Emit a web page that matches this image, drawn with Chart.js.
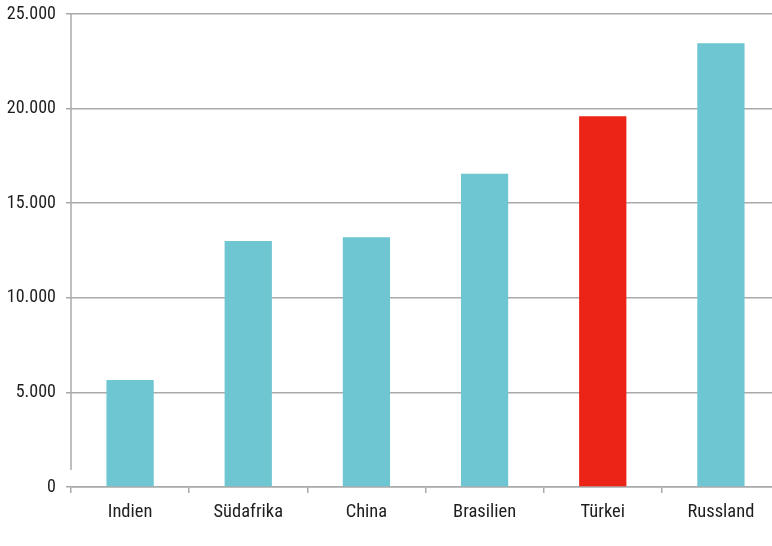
<!DOCTYPE html>
<html>
<head>
<meta charset="utf-8">
<script src="https://cdn.jsdelivr.net/npm/chart.js@4"></script>
<style>
  html, body { margin: 0; padding: 0; background: #fff; overflow: hidden; }
  #wrap { width: 800px; height: 546px; }
</style>
</head>
<body>
<div id="wrap"><canvas id="chart" width="800" height="546"></canvas></div>
<script>
// Werte
var categories = ['Indien', 'Südafrika', 'China', 'Brasilien', 'Türkei', 'Russland'];
var values = [5650, 13000, 13200, 16550, 19600, 23450];
var barColors = ['#6ec6d2', '#6ec6d2', '#6ec6d2', '#6ec6d2', '#ec2317', '#6ec6d2'];
var yTicks = [0, 5000, 10000, 15000, 20000, 25000];

var fontFamily = '"Roboto Condensed", "Liberation Sans Narrow", Roboto, sans-serif';

function fmt(v) {
    return String(v).replace(/\B(?=(\d{3})+(?!\d))/g, '.');
}

// y-Achse mit kleiner Lücke über der Nulllinie
var yAxisLine = {
    id: 'yAxisLine',
    afterDatasetsDraw: function (chart) {
        var a = chart.chartArea;
        var c = chart.ctx;
        c.save();
        c.strokeStyle = '#aaaaaa';
        c.lineWidth = 1.5;
        c.beginPath();
        c.moveTo(a.left, a.top);
        c.lineTo(a.left, a.bottom - 17);
        c.stroke();
        c.restore();
    }
};

var ctx = document.getElementById('chart').getContext('2d');
var chart = new Chart(ctx, {
    type: 'bar',
    data: {
        labels: categories,
        datasets: [{
            data: values,
            backgroundColor: barColors,
            borderWidth: 0,
            barPercentage: 0.4,
            categoryPercentage: 1
        }]
    },
    plugins: [yAxisLine],
    options: {
        responsive: false,
        animation: false,
        layout: { padding: { top: 14, right: 20, left: 0, bottom: 0 } },
        plugins: { legend: { display: false }, tooltip: { enabled: false } },
        scales: {
            x: {
                grid: { offset: true, drawOnChartArea: false, tickLength: 6, color: '#aaaaaa', lineWidth: 1.5 },
                border: { color: '#aaaaaa', width: 1.5 },
                ticks: { color: '#1e1e1e', font: { family: fontFamily, size: 18.5 }, padding: 8 },
                afterFit: function (s) { s.height = 59; }
            },
            y: {
                min: 0,
                max: 25000,
                afterBuildTicks: function (s) { s.ticks = yTicks.map(function (v) { return { value: v }; }); },
                grid: { color: '#aaaaaa', lineWidth: 1.5, tickLength: 5 },
                border: { display: false },
                ticks: {
                    color: '#1e1e1e',
                    font: { family: fontFamily, size: 18 },
                    padding: 10,
                    callback: function (v) { return fmt(v); }
                },
                afterFit: function (s) {
                    s.width = 71;
                    s.paddingTop = 0;
                    s.paddingBottom = 0;
                }
            }
        }
    }
});
</script>
</body>
</html>
